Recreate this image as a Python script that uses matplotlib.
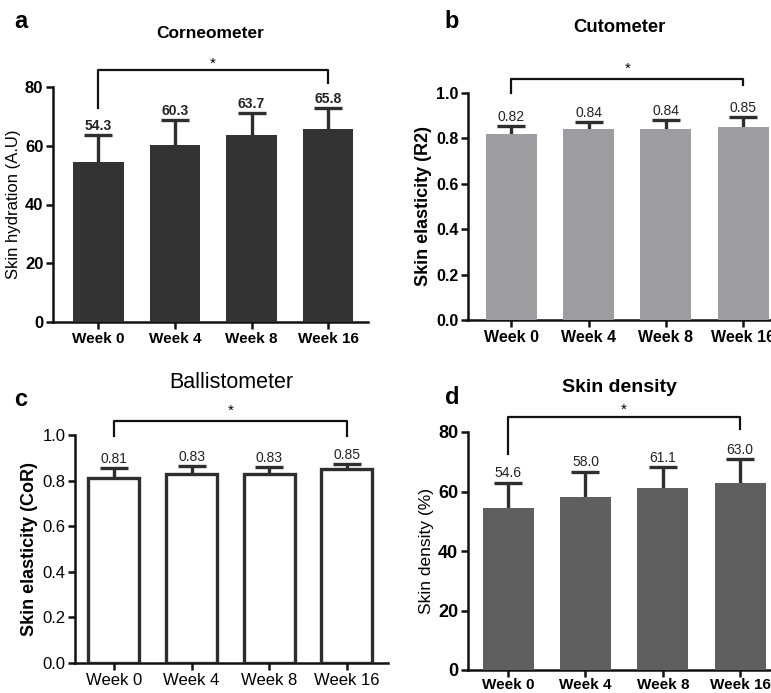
import matplotlib
matplotlib.use("Agg")
import matplotlib.pyplot as plt
import numpy as np

weeks = ["Week 0", "Week 4", "Week 8", "Week 16"]

corneo_mean = [54.3, 60.3, 63.7, 65.8]
corneo_sd = [9.4, 8.5, 7.4, 7.0]
corneo_labels = ["54.3", "60.3", "63.7", "65.8"]

cuto_mean = [0.82, 0.84, 0.84, 0.85]
cuto_sd = [0.035, 0.032, 0.041, 0.044]
cuto_labels = ["0.82", "0.84", "0.84", "0.85"]

ballis_mean = [0.81, 0.83, 0.83, 0.85]
ballis_sd = [0.045, 0.034, 0.030, 0.023]
ballis_labels = ["0.81", "0.83", "0.83", "0.85"]

dens_mean = [54.6, 58.0, 61.1, 63.0]
dens_sd = [8.3, 8.6, 7.1, 7.9]
dens_labels = ["54.6", "58.0", "61.1", "63.0"]

W, H = 771, 693
fig = plt.figure(figsize=(W / 100, H / 100), dpi=100)

DARK = "#2e2e2e"
FAM = "Liberation Sans"


def pos(l, r, t, b):
    return [l / W, 1 - b / H, (r - l) / W, (b - t) / H]


def panel(px, means, sds, labels, ylim, yticks, ytick_fmt, xlim,
          face, edge, lw_edge, title, title_w, title_fs, title_py,
          ylabel, ylabel_w, ylabel_fs,
          ytick_w, ytick_fs, xtick_w, xtick_fs, val_w, bracket, val_off,
          star_py, xpad=2):
    l, r, t, b = px
    ax = fig.add_axes(pos(l, r, t, b))
    x = np.arange(len(means))
    ax.bar(x, means, width=0.66, color=face, edgecolor=edge,
           linewidth=lw_edge, zorder=3)
    ax.errorbar(x, means, yerr=sds, fmt="none",
                ecolor=DARK, elinewidth=2.4, capsize=10, capthick=2.4,
                zorder=2)
    for xi, m, s, lab in zip(x, means, sds, labels):
        ax.text(xi, m + s + val_off, lab, ha="center", va="bottom",
                fontsize=10, fontweight=val_w, family=FAM,
                color="#222222")
    ax.set_ylim(*ylim)
    ax.set_xlim(*xlim)
    ax.set_yticks(yticks)
    ax.set_yticklabels([ytick_fmt.format(v) for v in yticks],
                       fontsize=ytick_fs, fontweight=ytick_w, family=FAM)
    ax.set_xticks(x)
    ax.set_xticklabels(weeks, fontsize=xtick_fs, fontweight=xtick_w,
                       family=FAM)
    for sp in ["top", "right"]:
        ax.spines[sp].set_visible(False)
    for sp in ["left", "bottom"]:
        ax.spines[sp].set_linewidth(1.8)
        ax.spines[sp].set_color("#111111")
    ax.tick_params(axis="both", width=1.8, length=5, color="#111111", pad=2)
    ax.tick_params(axis="x", pad=xpad)
    ax.set_ylabel(ylabel, fontsize=ylabel_fs, fontweight=ylabel_w,
                  family=FAM, labelpad=3)
    ax.set_title(title, fontsize=title_fs, fontweight=title_w,
                 family=FAM, pad=0,
                 y=(b - title_py) / (b - t), va="center")
    by, ly, ry = bracket
    ax.plot([0, 0, 3, 3], [ly, by, by, ry], color="#111111", lw=1.6,
            clip_on=False, zorder=4)
    ax.text(1.5, (b - star_py) / (b - t), "*", ha="center",
            va="center", fontsize=11, family=FAM,
            transform=ax.get_xaxis_transform())
    return ax


# a
panel((53, 368, 87, 322), corneo_mean, corneo_sd, corneo_labels,
      (0, 80), [0, 20, 40, 60, 80], "{:.0f}", (-0.59, 3.52),
      "#333333", "#333333", 0, "Corneometer", "bold", 12.5, 33,
      "Skin hydration (A.U)", "normal", 12,
      "bold", 12, "bold", 11, "bold", (85.8, 72.8, 81.4), 0.8, 64)

# b
panel((468, 771, 93, 320), cuto_mean, cuto_sd, cuto_labels,
      (0, 1.0), [0.0, 0.2, 0.4, 0.6, 0.8, 1.0], "{:.1f}",
      (-0.56, 3.36), "#9d9da1", "#9d9da1", 0, "Cutometer", "bold", 13.3, 27,
      "Skin elasticity (R2)", "bold", 13,
      "bold", 11.5, "bold", 11.5, "normal", (1.06, 1.0, 1.035), 0.008, 69)

# c
panel((75, 388, 435, 663), ballis_mean, ballis_sd, ballis_labels,
      (0, 1.0), [0.0, 0.2, 0.4, 0.6, 0.8, 1.0], "{:.1f}",
      (-0.5, 3.53), "white", DARK, 2.4, "Ballistometer", "normal", 15.5, 383,
      "Skin elasticity (CoR)", "bold", 13,
      "normal", 12, "normal", 12, "normal", (1.061, 0.996, 0.996), 0.008, 411)

# d
panel((468, 771, 432, 670), dens_mean, dens_sd, dens_labels,
      (0, 80), [0, 20, 40, 60, 80], "{:.0f}", (-0.52, 3.4),
      "#5f5f5f", "#5f5f5f", 0, "Skin density", "bold", 14, 387,
      "Skin density (%)", "normal", 12.5,
      "bold", 13, "bold", 11, "normal", (85.0, 72.6, 81.0), 0.8, 410,
      xpad=0.5)

for lab, (px_, py_) in zip(["a", "b", "c", "d"],
                           [(21, 22), (452, 22), (21, 399), (452, 397)]):
    fig.text(px_ / W, 1 - py_ / H, lab, fontsize=17, fontweight="bold",
             family=FAM, ha="center", va="center")

fig.savefig("out.png", dpi=100)
